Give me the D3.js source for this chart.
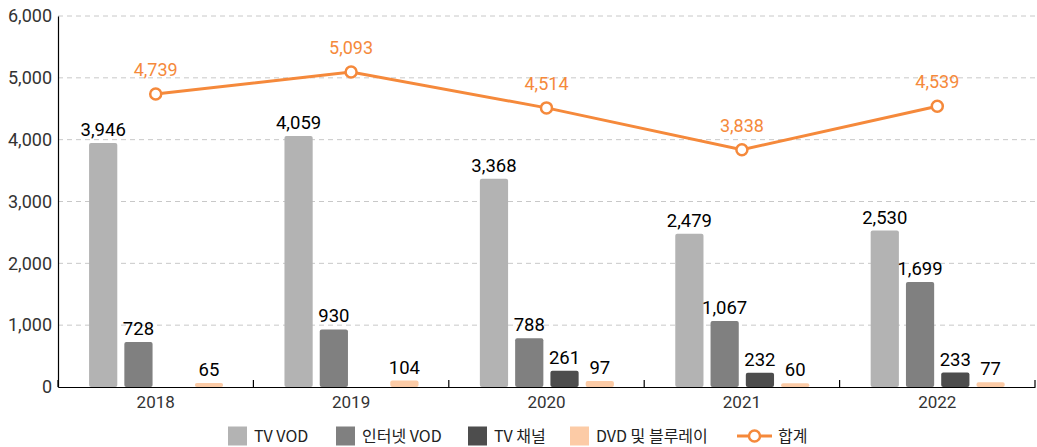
<!DOCTYPE html>
<html>
<head>
<meta charset="utf-8">
<script src="https://cdn.jsdelivr.net/npm/d3@7"></script>
<style>
  body { margin: 0; background: #fff; }
  text { font-family: "Noto Sans CJK KR", "Noto Sans", sans-serif; }
  text.num { font-family: Roboto, "Noto Sans CJK KR", sans-serif; }
</style>
</head>
<body>
<svg id="drawing_region"></svg>
<script>
const years = ['2018', '2019', '2020', '2021', '2022'];
const tvVod = [3946, 4059, 3368, 2479, 2530];
const netVod = [728, 930, 788, 1067, 1699];
const tvChannel = [null, null, 261, 232, 233];
const dvd = [65, 104, 97, 60, 77];
const total = [4739, 5093, 4514, 3838, 4539];
const yTicks = [0, 1000, 2000, 3000, 4000, 5000, 6000];

const seriesNames = ['TV VOD', '인터넷 VOD', 'TV 채널', 'DVD 및 블루레이'];
const seriesValues = [tvVod, netVod, tvChannel, dvd];
const seriesColors = ['#b3b3b3', '#808080', '#4d4d4d', '#fccba6'];
const lineName = '합계';
const lineColor = '#f5893b';

const width = 1037, height = 447;
const margin = {top: 16, right: 2, bottom: 60, left: 58};
const innerW = width - margin.left - margin.right;
const innerH = height - margin.top - margin.bottom;

const svg = d3.select('#drawing_region')
    .attr('width', width)
    .attr('height', height);

const chart = svg.append('g')
    .attr('transform', `translate(${margin.left}, ${margin.top})`);

const x0 = d3.scaleBand().domain(years).range([0, innerW]);
const bw = x0.bandwidth();
const x1 = d3.scaleBand().domain(d3.range(4)).range([bw * 0.159, bw * 0.845]).paddingInner(0.2);
const y = d3.scaleLinear().domain([0, 6000]).range([innerH, 0]);

// grid
chart.append('g')
    .selectAll('line')
    .data(yTicks.slice(1))
    .join('line')
    .attr('x1', 0).attr('x2', innerW)
    .attr('y1', d => y(d)).attr('y2', d => y(d))
    .attr('stroke', '#c8c8c8')
    .attr('stroke-dasharray', '5,4');

// y axis
const yaxis = d3.axisLeft(y).tickValues(yTicks).tickSize(0).tickPadding(6)
    .tickFormat(d3.format(','));
const yg = chart.append('g').call(yaxis);
yg.select('.domain').attr('stroke', '#000').attr('stroke-width', 1.2);
yg.selectAll('text').attr('class', 'num').attr('font-size', 18).attr('fill', '#333');

// x axis
const xaxis = d3.axisBottom(x0).tickSize(0).tickPadding(9);
const xg = chart.append('g').attr('transform', `translate(0, ${innerH})`).call(xaxis);
xg.select('.domain').attr('stroke', '#000').attr('stroke-width', 1.2);
xg.selectAll('text').attr('class', 'num').attr('font-size', 17).attr('fill', '#333');
xg.selectAll('.sep')
    .data(d3.range(years.length + 1))
    .join('line')
    .attr('class', 'sep')
    .attr('x1', i => i * bw).attr('x2', i => i * bw)
    .attr('y1', 0).attr('y2', -7)
    .attr('stroke', '#000').attr('stroke-width', 1.2);

// bars
seriesValues.forEach((vals, s) => {
    const g = chart.append('g');
    const pts = years.map((yr, i) => ({yr, v: vals[i]})).filter(d => d.v != null);
    g.selectAll('rect')
        .data(pts)
        .join('rect')
        .attr('x', d => x0(d.yr) + x1(s))
        .attr('y', d => y(d.v))
        .attr('width', x1.bandwidth())
        .attr('height', d => innerH - y(d.v))
        .attr('rx', 2)
        .attr('fill', seriesColors[s]);
    g.selectAll('text')
        .data(pts)
        .join('text')
        .attr('class', 'num')
        .attr('x', d => x0(d.yr) + x1(s) + x1.bandwidth() / 2)
        .attr('y', d => y(d.v) - 7)
        .attr('text-anchor', 'middle')
        .attr('font-size', 18.5)
        .attr('fill', '#000')
        .text(d => d3.format(',')(d.v));
});

// total line
const lineData = years.map((yr, i) => ({yr, v: total[i]}));
const line = d3.line().x(d => x0(d.yr) + bw / 2).y(d => y(d.v));
chart.append('path')
    .datum(lineData)
    .attr('d', line)
    .attr('fill', 'none')
    .attr('stroke', lineColor)
    .attr('stroke-width', 3);
chart.selectAll('.pt')
    .data(lineData)
    .join('circle')
    .attr('class', 'pt')
    .attr('cx', d => x0(d.yr) + bw / 2)
    .attr('cy', d => y(d.v))
    .attr('r', 5.5)
    .attr('fill', '#fff')
    .attr('stroke', lineColor)
    .attr('stroke-width', 2.5);
chart.selectAll('.tl')
    .data(lineData)
    .join('text')
    .attr('class', 'num')
    .attr('x', d => x0(d.yr) + bw / 2)
    .attr('y', d => y(d.v) - 18)
    .attr('text-anchor', 'middle')
    .attr('font-size', 18)
    .attr('fill', lineColor)
    .text(d => d3.format(',')(d.v));

// legend
const legend = svg.append('g').attr('transform', 'translate(0, 436)');
const legendX = [228, 336, 468, 570];
seriesNames.forEach((name, i) => {
    legend.append('rect')
        .attr('x', legendX[i]).attr('y', -9.5)
        .attr('width', 19).attr('height', 19)
        .attr('fill', seriesColors[i]);
    legend.append('text')
        .attr('x', legendX[i] + 26).attr('y', 0)
        .attr('dy', '0.35em')
        .attr('font-size', 16)
        .attr('fill', '#222')
        .text(name);
});
legend.append('line')
    .attr('x1', 737).attr('x2', 772).attr('y1', 0).attr('y2', 0)
    .attr('stroke', lineColor).attr('stroke-width', 3);
legend.append('circle')
    .attr('cx', 754.5).attr('cy', 0).attr('r', 5.5)
    .attr('fill', '#fff').attr('stroke', lineColor).attr('stroke-width', 2.5);
legend.append('text')
    .attr('x', 778).attr('y', 0).attr('dy', '0.35em')
    .attr('font-size', 16).attr('fill', '#222')
    .text(lineName);
</script>
</body>
</html>
